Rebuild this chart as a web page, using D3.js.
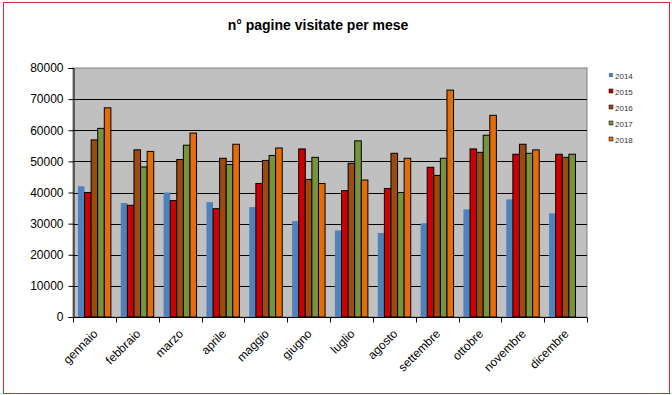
<!DOCTYPE html>
<html>
<head>
<meta charset="utf-8">
<script src="https://cdn.jsdelivr.net/npm/d3@7"></script>
<style>
  body { margin: 0; background: #fff; }
  svg { display: block; font-family: Arial, "Liberation Sans", sans-serif; }
</style>
</head>
<body>
<svg id="chart" width="672" height="395"></svg>
<script>
// Data
const months = ['gennaio', 'febbraio', 'marzo', 'aprile', 'maggio', 'giugno',
  'luglio', 'agosto', 'settembre', 'ottobre', 'novembre', 'dicembre'];
const years = ['2014', '2015', '2016', '2017', '2018'];
const v2014 = [42000, 36600, 40000, 36900, 35300, 30800, 27800, 27000, 30100, 34600, 37800, 33300];
const v2015 = [40000, 35900, 37400, 34800, 42900, 54000, 40600, 41300, 48100, 54000, 52300, 52300];
const v2016 = [56900, 53700, 50600, 51000, 50300, 44200, 49400, 52600, 45500, 52900, 55500, 51300];
const v2017 = [60600, 48200, 55200, 49000, 51900, 51300, 56600, 40000, 51000, 58400, 52600, 52300];
const v2018 = [67200, 53200, 59100, 55500, 54300, 42900, 44000, 51000, 72900, 64800, 53700, null];
const yTicks = [0, 10000, 20000, 30000, 40000, 50000, 60000, 70000, 80000];

const colors = ['#4f81bd', '#cc0000', '#9c4a0f', '#77933c', '#e46c0a'];
const series = [v2014, v2015, v2016, v2017, v2018];

const svg = d3.select('#chart');

// chart frame (Excel object border)
svg.append('rect')
  .attr('x', 3.5).attr('y', 2.5)
  .attr('width', 666).attr('height', 391)
  .attr('fill', '#fff')
  .attr('stroke', '#d42a2a')
  .attr('stroke-width', 1);

// title
svg.append('text')
  .attr('x', 318).attr('y', 30)
  .attr('text-anchor', 'middle')
  .style('font-size', '14px')
  .style('font-weight', 'bold')
  .text('n° pagine visitate per mese');

const plot = { left: 73, right: 587, top: 68, bottom: 317 };

const x = d3.scaleBand()
  .domain(months)
  .range([plot.left, plot.right])
  .padding(0);

// bars inside a month: gap of 1.5 bar widths split on both sides
const xInner = d3.scaleBand()
  .domain(years)
  .range([0, x.bandwidth()])
  .paddingInner(0)
  .paddingOuter(0.75);

const y = d3.scaleLinear()
  .domain([0, 80000])
  .range([plot.bottom, plot.top]);

// plot area
svg.append('rect')
  .attr('x', plot.left).attr('y', plot.top)
  .attr('width', plot.right - plot.left)
  .attr('height', plot.bottom - plot.top)
  .attr('fill', '#c0c0c0')
  .attr('stroke', '#808080')
  .attr('stroke-width', 1);

// gridlines
svg.append('g')
  .selectAll('line')
  .data(yTicks.filter(d => d > 0 && d < 80000))
  .enter()
  .append('line')
  .attr('x1', plot.left).attr('x2', plot.right)
  .attr('y1', d => Math.round(y(d)) + 0.5)
  .attr('y2', d => Math.round(y(d)) + 0.5)
  .attr('stroke', '#000')
  .attr('stroke-width', 1);

// bars
series.forEach((vals, i) => {
  svg.append('g')
    .selectAll('rect')
    .data(months.map((m, j) => ({ month: m, value: vals[j] })).filter(d => d.value != null))
    .enter()
    .append('rect')
    .attr('x', d => x(d.month) + xInner(years[i]))
    .attr('y', d => y(d.value))
    .attr('width', xInner.bandwidth())
    .attr('height', d => y(0) - y(d.value))
    .attr('fill', colors[i])
    .attr('stroke', i === 0 ? 'none' : '#000')
    .attr('stroke-width', 1);
});

// y axis
const yAxis = svg.append('g')
  .attr('transform', `translate(${plot.left + 0.5},0)`)
  .call(d3.axisLeft(y).tickValues(yTicks).tickSize(5).tickPadding(5).tickFormat(d3.format('d')));
yAxis.select('.domain').attr('stroke', '#000');
yAxis.selectAll('text').style('font-size', '12px').attr('fill', '#000').attr('font-family', 'Arial, "Liberation Sans", sans-serif');

// x axis: ticks at category boundaries
const xAxisG = svg.append('g')
  .attr('transform', `translate(0,${plot.bottom + 0.5})`);
xAxisG.append('line')
  .attr('x1', plot.left).attr('x2', plot.right)
  .attr('stroke', '#000');
xAxisG.selectAll('.tick')
  .data(months.concat(['end']))
  .enter()
  .append('line')
  .attr('x1', d => Math.round(d === 'end' ? plot.right : x(d)) + 0.5)
  .attr('x2', d => Math.round(d === 'end' ? plot.right : x(d)) + 0.5)
  .attr('y1', 0).attr('y2', 5)
  .attr('stroke', '#000');
xAxisG.selectAll('text')
  .data(months)
  .enter()
  .append('text')
  .attr('transform', d => `translate(${x(d) + x.bandwidth() / 2 + 4},${17}) rotate(-45)`)
  .attr('text-anchor', 'end')
  .style('font-size', '12px')
  .text(d => d);

// legend
const legend = svg.append('g')
  .selectAll('g')
  .data(years)
  .enter()
  .append('g')
  .attr('transform', (d, i) => `translate(609,${76 + i * 16})`);
legend.append('rect')
  .attr('x', 0).attr('y', -3)
  .attr('width', 4).attr('height', 4)
  .attr('fill', (d, i) => colors[i])
  .attr('stroke', (d, i) => i === 0 ? 'none' : '#000')
  .attr('stroke-width', 0.5);
legend.append('text')
  .attr('x', 6).attr('y', 2.5)
  .style('font-size', '8px')
  .attr('fill', '#333')
  .text(d => d);
</script>
</body>
</html>
